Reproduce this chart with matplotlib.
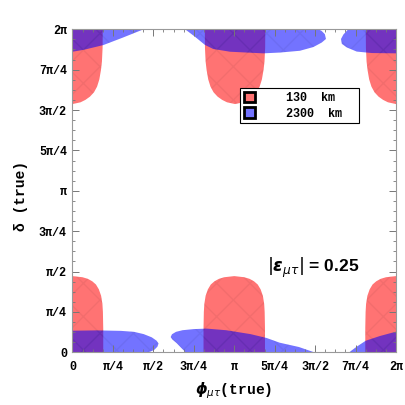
import numpy as np
import matplotlib
matplotlib.use("Agg")
import matplotlib.pyplot as plt
from matplotlib.patches import Patch
from matplotlib.ticker import MultipleLocator

PI = np.pi

# ---- data (all in units of pi) ----
# red dome rising from delta = 0 (centres at phi = 0, pi, 2pi)
red_low_centers = [0.0, 1.0, 2.0]
red_low_delta = [0.0, 0.15, 0.25, 0.30, 0.35, 0.39, 0.42, 0.44, 0.455, 0.465, 0.472]
red_low_halfwidth = [0.19, 0.19, 0.188, 0.185, 0.177, 0.163, 0.145, 0.122, 0.095, 0.062, 0.0]

# red dome hanging from delta = 2pi
red_high_centers = [0.0, 1.005, 2.0]
red_high_depth = [0.0, 0.116, 0.20, 0.252, 0.31, 0.355, 0.39, 0.417, 0.437, 0.452, 0.463]
red_high_halfwidth = [0.187, 0.186, 0.182, 0.176, 0.166, 0.152, 0.133, 0.108, 0.08, 0.05, 0.0]

# blue regions (phi, delta) boundaries
blue1_phi = [0.0, 0.0, 0.15, 0.30, 0.38, 0.44, 0.49, 0.52, 0.532, 0.525, 0.505, 0.48, 0.46]
blue1_delta = [0.0, 0.134, 0.136, 0.133, 0.127, 0.113, 0.093, 0.072, 0.055, 0.035, 0.015, 0.004, 0.0]

blue2_phi = [0.70, 0.67, 0.645, 0.617, 0.607, 0.615, 0.64, 0.68, 0.75, 0.83, 0.95, 1.10, 1.20, 1.28, 1.40, 1.495]
blue2_delta = [0.0, 0.03, 0.056, 0.08, 0.095, 0.112, 0.127, 0.137, 0.144, 0.147, 0.137, 0.113, 0.089, 0.06, 0.033, 0.0]

blue3_phi = [1.711, 1.73, 1.757, 1.813, 1.90, 2.0, 2.0]
blue3_delta = [0.0, 0.015, 0.035, 0.072, 0.101, 0.128, 0.0]

blue4_phi = [0.0, 0.0, 0.07, 0.19, 0.31, 0.44]
blue4_delta = [2.0, 1.861, 1.873, 1.902, 1.948, 2.0]

blue5_phi = [0.696, 0.757, 0.819, 0.87, 0.974, 1.18, 1.283, 1.406, 1.489, 1.541, 1.567, 1.56, 1.54, 1.52]
blue5_delta = [2.0, 1.954, 1.903, 1.878, 1.861, 1.851, 1.856, 1.867, 1.89, 1.918, 1.94, 1.97, 1.99, 2.0]

blue6_phi = [1.705, 1.675, 1.66, 1.665, 1.695, 1.757, 1.85, 2.0, 2.0]
blue6_delta = [2.0, 1.968, 1.94, 1.91, 1.888, 1.862, 1.853, 1.851, 2.0]

tick_labels_x = ["0", "π/4", "π/2", "3π/4", "π", "5π/4", "3π/2", "7π/4", "2π"]
tick_labels_y = ["0", "π/4", "π/2", "3π/4", "π", "5π/4", "3π/2", "7π/4", "2π"]
legend_labels = ["130  km", "2300  km"]
eps_text = r"$|\boldsymbol{\epsilon}_{\mu\tau}|$ = 0.25"

RED = (1.0, 0.0, 0.0)
BLUE = (0.0, 0.0, 1.0)
ALPHA = 0.55

plt.rcParams["mathtext.fontset"] = "dejavusans"

fig = plt.figure(figsize=(4.05, 4.05), dpi=100)
ax = fig.add_axes([0.179, 0.130, 0.7988, 0.7977])

def fill_region(xs, ys, col):
    xs = np.asarray(xs) * PI
    ys = np.asarray(ys) * PI
    ax.fill(xs, ys, color=col, alpha=ALPHA, lw=0)
    ax.fill(xs, ys, facecolor="none", edgecolor=(0, 0, 0, 0.05), hatch="x", lw=0)

hw = np.asarray(red_low_halfwidth)
dl = np.asarray(red_low_delta)
for c in red_low_centers:
    xs = np.concatenate([c - hw, (c + hw)[::-1]])
    ys = np.concatenate([dl, dl[::-1]])
    fill_region(xs, ys, RED)

hw2 = np.asarray(red_high_halfwidth)
dh = 2.0 - np.asarray(red_high_depth)
for c in red_high_centers:
    xs = np.concatenate([c - hw2, (c + hw2)[::-1]])
    ys = np.concatenate([dh, dh[::-1]])
    fill_region(xs, ys, RED)

for px, py in [(blue1_phi, blue1_delta), (blue2_phi, blue2_delta), (blue3_phi, blue3_delta),
               (blue4_phi, blue4_delta), (blue5_phi, blue5_delta), (blue6_phi, blue6_delta)]:
    fill_region(px, py, BLUE)

ax.set_xlim(0, 2 * PI)
ax.set_ylim(0, 2 * PI)

ticks = [k * PI / 4 for k in range(9)]
ax.set_xticks(ticks)
ax.set_yticks(ticks)
ax.set_xticklabels(tick_labels_x)
ax.set_yticklabels(tick_labels_y)
ax.xaxis.set_minor_locator(MultipleLocator(PI / 16))
ax.yaxis.set_minor_locator(MultipleLocator(PI / 16))

for lab in ax.get_xticklabels() + ax.get_yticklabels():
    lab.set_fontfamily("Liberation Mono")
    lab.set_fontweight("bold")
    lab.set_fontsize(8.5)

ax.tick_params(which="both", direction="in", top=True, right=True, colors="#777777",
               labelcolor="black")
ax.tick_params(which="major", length=5, width=0.7)
ax.tick_params(which="minor", length=2.5, width=0.6)
ax.tick_params(axis="x", pad=6)
ax.tick_params(axis="y", pad=4)
for sp in ax.spines.values():
    sp.set_color("#999999")
    sp.set_linewidth(0.8)

handles = [Patch(facecolor=(1, 0.45, 0.45), edgecolor="black", lw=2),
           Patch(facecolor=(0.45, 0.45, 1), edgecolor="black", lw=2)]
leg = ax.legend(handles, legend_labels, loc="upper left",
                bbox_to_anchor=(0.518, 0.716, 0.368, 0.102), mode="expand",
                prop=dict(family="Liberation Mono", weight="bold", size=8.5),
                frameon=True, fancybox=False, edgecolor="black", framealpha=1,
                handlelength=1.0, handleheight=1.0, handletextpad=2.6,
                borderpad=0.3, labelspacing=0.3, borderaxespad=0)
leg.get_frame().set_linewidth(0.8)

ax.text(0.601, 0.261, eps_text, transform=ax.transAxes, ha="left", va="center",
        fontsize=12.5, family="Liberation Sans", weight="bold")

fig.text(21 / 405, 1 - 196 / 405, "δ (true)", rotation=90, ha="center", va="center",
         fontsize=10.5, family=["Liberation Mono", "DejaVu Sans"], weight="bold")
fig.text(234 / 405, 1 - 390 / 405, r"$\boldsymbol{\phi}_{\mu\tau}$(true)", ha="center", va="center",
         fontsize=10.5, family="Liberation Mono", weight="bold")

fig.savefig("out.png", dpi=100)
